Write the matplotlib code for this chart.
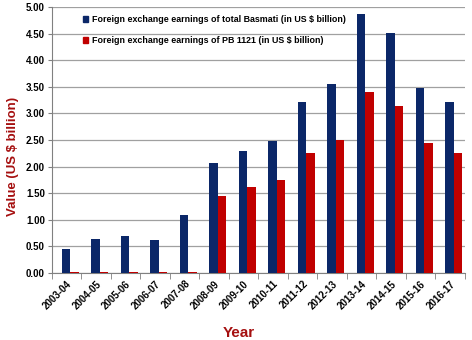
import matplotlib
matplotlib.use("Agg")
import matplotlib.pyplot as plt
import numpy as np
from matplotlib.patches import Patch
from matplotlib import font_manager

years = ["2003-04", "2004-05", "2005-06", "2006-07", "2007-08", "2008-09", "2009-10",
         "2010-11", "2011-12", "2012-13", "2013-14", "2014-15", "2015-16", "2016-17"]
total_basmati = [0.45, 0.64, 0.70, 0.63, 1.09, 2.07, 2.30, 2.49, 3.22, 3.56, 4.87, 4.52, 3.48, 3.21]
pb1121 = [0.01, 0.01, 0.01, 0.01, 0.01, 1.45, 1.61, 1.75, 2.26, 2.50, 3.40, 3.15, 2.44, 2.25]

blue = "#0b2768"
red = "#c00000"
label_red = "#a50f0f"

names = {f.name for f in font_manager.fontManager.ttflist}
narrow = 'Liberation Sans Narrow' in names
fam = ['Liberation Sans Narrow', 'Liberation Sans', 'DejaVu Sans'] if narrow else ['Liberation Sans', 'DejaVu Sans']
plt.rcParams['font.family'] = fam
tick_fs = 8.5 if narrow else 7
leg_fs = 8.5 if narrow else 6.4

fig = plt.figure(figsize=(4.72, 3.40), dpi=100)
ax = fig.add_axes([0.110, 0.197, 0.875, 0.782])

x = np.arange(len(years))
w = 0.29
ax.bar(x - 0.03, total_basmati, width=w, color=blue, zorder=3)
ax.bar(x + 0.26, pb1121, width=w, color=red, zorder=3)

ax.set_xlim(-0.5, len(years) - 0.5)
ax.set_ylim(0, 5.0)
ax.set_yticks(np.arange(0, 5.01, 0.5))
ax.set_yticklabels([f"{v:.2f}" for v in np.arange(0, 5.01, 0.5)], fontsize=tick_fs, fontweight='bold')
ax.yaxis.grid(True, color="#a0a0a0", linewidth=0.9, zorder=0)

ax.set_xticks(x)
ax.set_xticklabels(years, rotation=45, ha='right', va='top', rotation_mode='anchor',
                   fontsize=tick_fs, fontweight='bold')
ax.tick_params(axis='x', length=0, pad=4)
ax.set_xticks(np.arange(-0.5, len(years), 1), minor=True)
ax.tick_params(axis='x', which='minor', length=4, color="#808080")
ax.tick_params(axis='y', length=3, color="#808080", pad=2)

for s in ['top', 'right']:
    ax.spines[s].set_visible(False)
ax.spines['left'].set_color("#808080")
ax.spines['bottom'].set_color("#808080")

ax.set_ylabel("Value (US $ billion)", fontsize=9.5, fontweight='bold', color=label_red)
ax.yaxis.set_label_coords(-0.08, 0.44)
fig.text(0.505, 0.02, "Year", fontsize=11, fontweight='bold', color=label_red, ha='center', va='center')

handles = [Patch(color=blue, label="Foreign exchange earnings of total Basmati (in US $ billion)"),
           Patch(color=red, label="Foreign exchange earnings of PB 1121 (in US $ billion)")]
leg = ax.legend(handles=handles, loc='upper left', bbox_to_anchor=(0.055, 1.0), frameon=False,
                prop={'size': leg_fs, 'weight': 'bold'}, handlelength=0.6, handleheight=0.6,
                handletextpad=0.4, labelspacing=1.35)

fig.savefig("out.png", dpi=100)
